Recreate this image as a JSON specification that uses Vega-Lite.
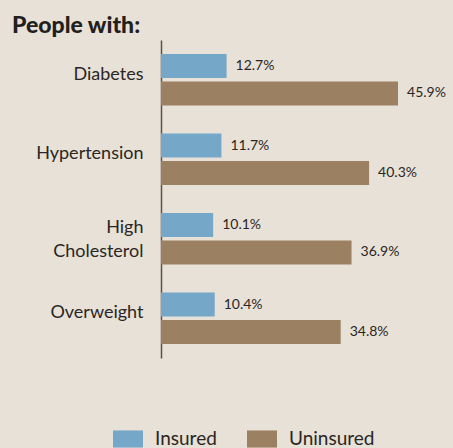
{
  "$schema": "https://vega.github.io/schema/vega-lite/v6.json",
  "width": 284,
  "height": 318,
  "autosize": {"type": "none"},
  "padding": {"left": 161, "top": 40, "right": 8, "bottom": 90},
  "background": "#e8e1d8",
  "config": {"view": {"stroke": null}, "font": "Lato"},
  "title": {"text": "People with:", "anchor": "start", "frame": "group", "dx": -149, "dy": 2, "fontSize": 23, "fontWeight": 900, "color": "#231f1c", "font": "Lato"},
  "data": {"values": [
    {"condition": "Diabetes", "status": "Insured", "value": 0.127},
    {"condition": "Diabetes", "status": "Uninsured", "value": 0.459},
    {"condition": "Hypertension", "status": "Insured", "value": 0.117},
    {"condition": "Hypertension", "status": "Uninsured", "value": 0.403},
    {"condition": "High Cholesterol", "status": "Insured", "value": 0.101},
    {"condition": "High Cholesterol", "status": "Uninsured", "value": 0.369},
    {"condition": "Overweight", "status": "Insured", "value": 0.104},
    {"condition": "Overweight", "status": "Uninsured", "value": 0.348}
  ]},
  "encoding": {
    "y": {"field": "condition", "type": "nominal", "sort": ["Diabetes", "Hypertension", "High Cholesterol", "Overweight"],
      "scale": {"paddingInner": 0, "paddingOuter": 0},
      "axis": {"title": null, "ticks": false, "domainColor": "#5b5148", "domainWidth": 1.5, "labelFontSize": 18, "labelColor": "#2a2623", "labelPadding": 18, "labelBaseline": "middle",
        "labelOffset": {"condition": {"test": "datum.value == 'High Cholesterol'", "value": -11}, "value": -5},
        "labelLineHeight": 24, "labelExpr": "datum.value == 'High Cholesterol' ? ['High','Cholesterol'] : datum.value", "labelLimit": 200}},
    "yOffset": {"field": "status", "type": "nominal", "sort": ["Insured", "Uninsured"], "scale": {"paddingInner": 0.127, "paddingOuter": 0.509}},
    "x": {"field": "value", "type": "quantitative", "scale": {"domain": [0, 0.55]}, "axis": null}
  },
  "layer": [
    {"mark": {"type": "bar"},
     "encoding": {"color": {"field": "status", "type": "nominal",
       "scale": {"domain": ["Insured", "Uninsured"], "range": ["#74a7c8", "#9b8062"]},
       "legend": {"title": null, "orient": "none", "legendX": -48, "legendY": 384, "direction": "horizontal", "symbolType": "M-1,-0.57H1V0.57H-1Z", "symbolSize": 900, "symbolStrokeWidth": 0, "symbolOpacity": 1, "labelFontSize": 19, "labelColor": "#2a2623", "labelOffset": 12, "columnPadding": 30}}}},
    {"mark": {"type": "text", "align": "left", "baseline": "middle", "dx": 9, "fontSize": 14, "color": "#2a2623"},
     "encoding": {"text": {"field": "value", "type": "quantitative", "format": ".1%"}}}
  ]
}
